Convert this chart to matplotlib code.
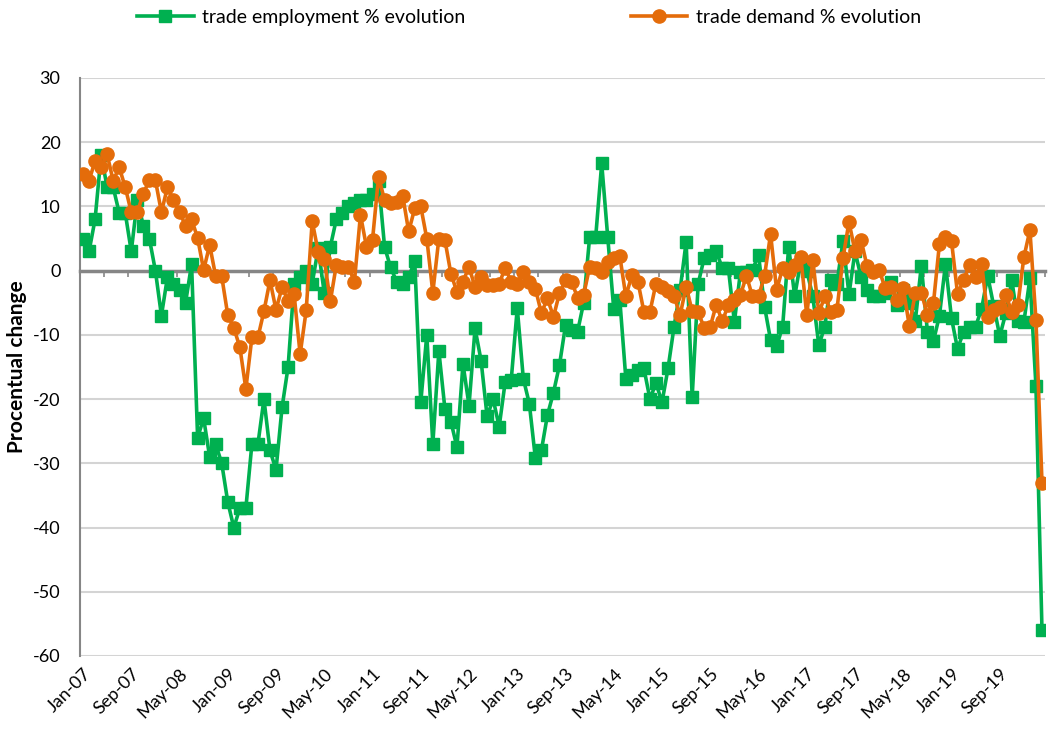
import matplotlib
matplotlib.use("Agg")
import matplotlib.pyplot as plt
import numpy as np
import pandas as pd

# monthly series, Jan-07 .. Apr-20
months = pd.date_range("2007-01-01", periods=160, freq="MS")

employment = [
    5.0, 3.0, 8.0, 18.0, 13.0, 13.0, 9.0, 9.0, 3.0, 11.0,
    7.0, 5.0, 0.0, -7.0, -1.0, -2.0, -3.0, -5.0, 1.0, -26.0,
    -23.0, -29.0, -27.0, -30.0, -36.0, -40.0, -37.0, -37.0, -27.0, -27.0,
    -20.0, -28.0, -31.0, -21.3, -15.0, -2.0, -1.0, 0.0, -2.0, 3.5,
    -3.5, 3.7, 8.0, 9.0, 10.0, 10.5, 11.0, 11.0, 12.0, 14.0,
    3.7, 0.5, -1.7, -2.0, -1.0, 1.5, -20.5, -10.0, -27.0, -12.5,
    -21.5, -23.5, -27.5, -14.5, -21.0, -9.0, -14.0, -22.7, -20.0, -24.3,
    -17.3, -17.0, -5.8, -16.8, -20.7, -29.2, -28.0, -22.5, -19.0, -14.7,
    -8.5, -9.3, -9.5, -5.0, 5.2, 5.2, 16.7, 5.2, -6.0, -4.5,
    -16.8, -16.3, -15.5, -15.2, -20.0, -17.5, -20.5, -15.2, -8.7, -3.0,
    4.5, -19.7, -2.0, 2.0, 2.4, 3.0, 0.4, 0.4, -8.0, -0.2,
    -0.2, 0.1, 2.5, -5.6, -10.8, -11.8, -8.7, 3.7, -4.0, 1.5,
    0.0, -4.0, -11.6, -8.7, -1.5, -2.0, 4.6, -3.7, 3.0, -1.0,
    -3.0, -4.0, -4.0, -3.5, -1.7, -5.3, -3.0, -5.0, -7.8, 0.8,
    -9.5, -11.0, -7.0, 1.0, -7.4, -12.2, -9.5, -8.7, -8.7, -5.9,
    -0.8, -5.5, -10.2, -6.6, -1.5, -7.8, -8.0, -1.2, -18.0, -56.0,
]

demand = [
    15.1, 14.0, 17.1, 16.1, 18.1, 14.0, 16.1, 13.0, 9.1, 9.1,
    12.0, 14.1, 14.1, 9.1, 13.0, 11.0, 9.1, 7.0, 8.0, 5.1,
    0.1, 4.0, -0.9, -0.9, -6.9, -8.9, -11.9, -18.4, -10.4, -10.4,
    -6.3, -1.5, -6.1, -2.6, -4.7, -3.7, -13.0, -6.2, 7.7, 2.9,
    1.8, -4.8, 0.9, 0.6, 0.6, -1.7, 8.7, 3.7, 4.8, 14.6,
    11.0, 10.5, 10.7, 11.7, 6.1, 9.7, 10.0, 5.0, -3.4, 5.0,
    4.8, -0.5, -3.3, -1.7, 0.6, -2.6, -1.0, -2.2, -2.2, -2.0,
    0.4, -1.7, -2.0, -0.2, -1.7, -2.8, -6.6, -4.3, -7.2, -3.5,
    -1.5, -1.7, -4.2, -3.8, 0.6, 0.4, -0.2, 1.3, 2.0, 2.3,
    -4.0, -0.7, -1.7, -6.4, -6.4, -2.0, -2.5, -3.2, -4.0, -6.9,
    -2.5, -6.3, -6.5, -8.9, -8.7, -5.3, -7.9, -5.3, -4.5, -3.8,
    -0.8, -4.0, -4.0, -0.8, 5.7, -3.0, 0.4, -0.2, 0.9, 2.2,
    -6.9, 1.6, -6.6, -4.0, -6.4, -6.1, 1.9, 7.6, 3.0, 4.8,
    0.7, -0.2, 0.1, -2.7, -2.6, -4.6, -2.7, -8.6, -3.5, -3.4,
    -6.9, -5.1, 4.2, 5.2, 4.6, -3.6, -1.5, 0.9, -1.0, 1.1,
    -7.2, -6.1, -5.6, -3.8, -6.4, -5.3, 2.1, 6.3, -7.7, -33.0,
]

month_labels = [m.strftime("%b-%y") for m in months]
label_step = 8
y_ticks = list(range(-60, 31, 10))

green = "#00B050"
orange = "#E46C0A"

plt.rcParams["font.family"] = ["Lato", "DejaVu Sans"]
plt.rcParams["axes.unicode_minus"] = False

fig = plt.figure(figsize=(10.52, 7.36), dpi=100)
ax = fig.add_axes([80 / 1052, 80 / 736, 965 / 1052, 578 / 736])

x = np.arange(len(months))
ax.plot(x, employment, color=green, lw=2.6, marker="s", ms=8.5,
        label="trade employment % evolution", zorder=3)
ax.plot(x, demand, color=orange, lw=2.6, marker="o", ms=9.5,
        label="trade demand % evolution", zorder=4)

ax.set_xlim(-0.5, len(months) - 0.5)
ax.set_ylim(-60, 30)
ax.set_yticks(y_ticks)
ax.yaxis.grid(True, color="#d4d4d4", lw=1.5, zorder=0)
ax.set_axisbelow(True)
ax.tick_params(axis="y", length=0, pad=14, labelsize=13)

for s in ["top", "right"]:
    ax.spines[s].set_visible(False)
ax.spines["left"].set_color("#868686")
ax.spines["left"].set_linewidth(1.5)

# horizontal axis crosses at zero, tick marks every 4 months
ax.spines["bottom"].set_position(("data", 0))
ax.spines["bottom"].set_color("#868686")
ax.spines["bottom"].set_linewidth(2.5)
ax.spines["bottom"].set_zorder(2)
ax.set_xticks(np.arange(-0.5, len(months), 4))
ax.set_xticklabels([])
ax.tick_params(axis="x", length=4, width=1.2, color="#868686", direction="out")

# date labels at the bottom of the plot
sec = ax.secondary_xaxis(0.0)
sec.set_xticks(x[::label_step])
sec.set_xticklabels(month_labels[::label_step], rotation=45, ha="right",
                    rotation_mode="anchor", fontsize=13)
sec.tick_params(length=0, pad=7)
sec.spines["bottom"].set_visible(False)

ax.set_ylabel("Procentual change", fontsize=15, fontweight="bold", labelpad=4)

fig.legend(loc="upper center", bbox_to_anchor=(0.503, 1.012), ncol=2,
           frameon=False, fontsize=14, handlelength=2.9,
           handletextpad=0.45, columnspacing=8.5)

fig.savefig("out.png", dpi=100)
